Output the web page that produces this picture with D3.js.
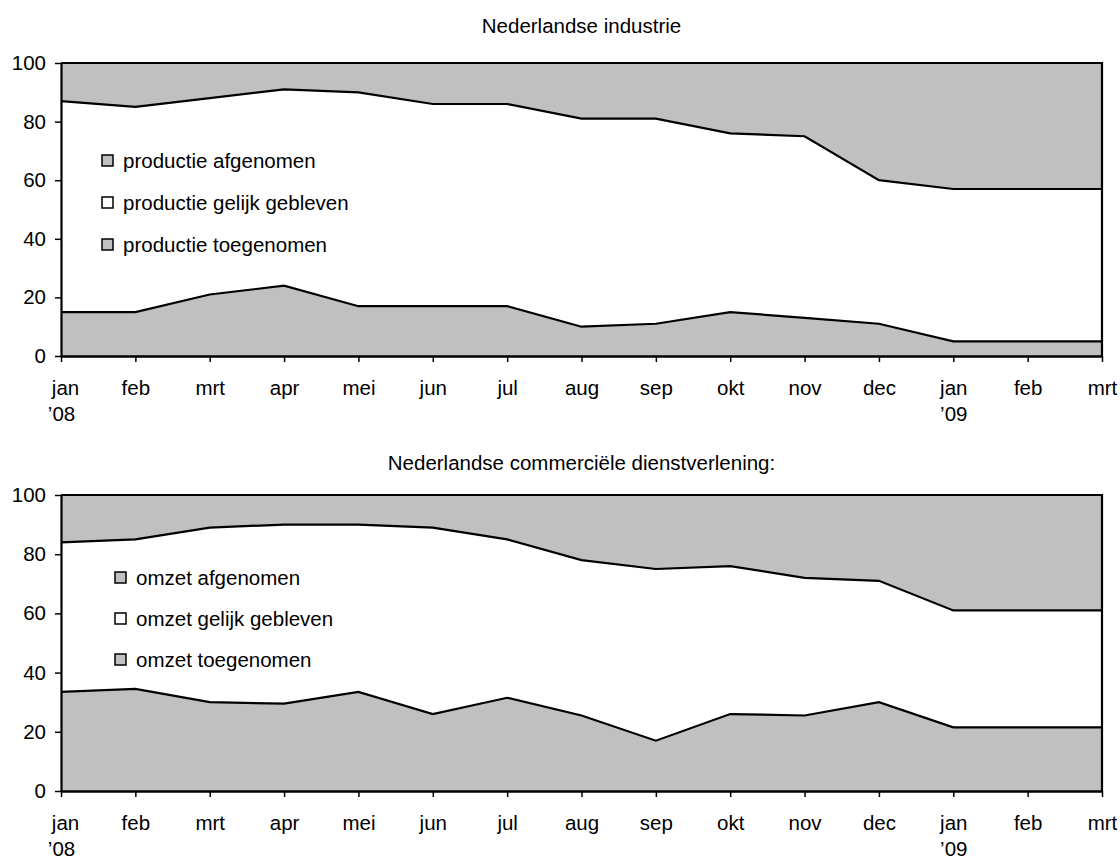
<!DOCTYPE html>
<html>
<head>
<meta charset="utf-8">
<script src="https://cdn.jsdelivr.net/npm/d3@7"></script>
<style>
  html, body { margin: 0; padding: 0; background: #fff; }
  svg text { font-family: "Liberation Sans", Arial, sans-serif; fill: #000; }
</style>
</head>
<body>
<svg id="chart" width="1120" height="859"></svg>
<script>
// ---- data ----
const months = ["jan","feb","mrt","apr","mei","jun","jul","aug","sep","okt","nov","dec","jan","feb","mrt"];
const years  = ["\u201908","","","","","","","","","","","","\u201909","",""];
const yTicks = [0, 20, 40, 60, 80, 100];

// Nederlandse industrie (percentages)
const indToegenomen = [15, 15, 21, 24, 17, 17, 17, 10, 11, 15, 13, 11, 5, 5, 5];
const indGelijk     = [72, 70, 67, 67, 73, 69, 69, 71, 70, 61, 62, 49, 52, 52, 52];
const indAfgenomen  = [13, 15, 12, 9, 10, 14, 14, 19, 19, 24, 25, 40, 43, 43, 43];

// Nederlandse commerciële dienstverlening (percentages)
const dvToegenomen = [33.5, 34.5, 30, 29.5, 33.5, 26, 31.5, 25.5, 17, 26, 25.5, 30, 21.5, 21.5, 21.5];
const dvGelijk     = [50.5, 50.5, 59, 60.5, 56.5, 63, 53.5, 52.5, 58, 50, 46.5, 41, 39.5, 39.5, 39.5];
const dvAfgenomen  = [16, 15, 11, 10, 10, 11, 15, 22, 25, 24, 28, 29, 39, 39, 39];

const indTitle = "Nederlandse industrie";
const dvTitle = "Nederlandse commerciële dienstverlening:";
const indLegend = ["productie afgenomen", "productie gelijk gebleven", "productie toegenomen"];
const dvLegend = ["omzet afgenomen", "omzet gelijk gebleven", "omzet toegenomen"];

// ---- drawing ----
const svg = d3.select("#chart");
const FS = 20.5;
const GRAY = "#c0c0c0";

function drawPanel(cfg) {
  const { top, bottom, left, right, toe, gel, afg, title, legend, legX, legY, legStep } = cfg;
  const g = svg.append("g");
  const idx = d3.range(months.length);
  const x = d3.scalePoint().domain(idx).range([left, right]);
  const y = d3.scaleLinear().domain([0, 100]).range([bottom, top]);

  const rows = idx.map(i => ({ i, toe: toe[i], gel: gel[i], afg: afg[i] }));
  const series = d3.stack().keys(["toe", "gel", "afg"])(rows);
  const fills = { toe: GRAY, gel: "#ffffff", afg: GRAY };

  const area = d3.area()
    .x(d => x(d.data.i))
    .y0(d => y(d[0]))
    .y1(d => y(d[1]));

  g.selectAll("path.layer").data(series).enter().append("path")
    .attr("class", "layer")
    .attr("d", area)
    .attr("fill", s => fills[s.key])
    .attr("stroke", "none");

  // boundary lines
  const line = d3.line().x(d => x(d.data.i)).y(d => y(d[1]));
  g.selectAll("path.bound").data(series.slice(0, 2)).enter().append("path")
    .attr("class", "bound")
    .attr("d", line)
    .attr("fill", "none")
    .attr("stroke", "#000")
    .attr("stroke-width", 2.2);

  // frame: top and right
  g.append("path")
    .attr("d", `M${left},${y(100)}H${right}V${y(0)}`)
    .attr("fill", "none").attr("stroke", "#000").attr("stroke-width", 2.2);

  // y axis
  const ya = g.append("g").attr("transform", `translate(${left},0)`)
    .call(d3.axisLeft(y).tickValues(yTicks).tickSize(6).tickPadding(9).tickSizeOuter(0));
  ya.select(".domain").attr("stroke-width", 2.2);
  ya.selectAll(".tick line").attr("stroke-width", 1.5);
  ya.selectAll("text").attr("font-size", FS).attr("font-family", null);

  // x axis
  const xa = g.append("g").attr("transform", `translate(0,${bottom})`)
    .call(d3.axisBottom(x).tickSize(6).tickSizeOuter(0).tickFormat(() => ""));
  xa.select(".domain").attr("stroke-width", 2.5);
  xa.selectAll(".tick line").attr("stroke-width", 1.5);
  xa.selectAll(".tick text").remove();
  const lab = xa.selectAll(".tick").append("text")
    .attr("font-size", FS)
    .attr("text-anchor", "middle")
    .attr("dx", d => d === 0 ? 4 : 0);
  lab.append("tspan").attr("x", 0).attr("y", 39).text(d => months[d]);
  lab.append("tspan").attr("x", 0).attr("y", 65).text(d => years[d]);

  // title
  g.append("text")
    .attr("x", (left + right) / 2)
    .attr("y", cfg.titleY)
    .attr("text-anchor", "middle")
    .attr("font-size", FS)
    .text(title);

  // legend
  const legFill = [GRAY, "#ffffff", GRAY];
  const lg = g.selectAll("g.leg").data(legend).enter().append("g")
    .attr("class", "leg")
    .attr("transform", (d, i) => `translate(${legX},${legY + i * legStep})`);
  lg.append("rect")
    .attr("x", 0).attr("y", -6).attr("width", 11).attr("height", 11)
    .attr("fill", (d, i) => legFill[i])
    .attr("stroke", "#000").attr("stroke-width", 1.5);
  lg.append("text")
    .attr("x", 21).attr("y", 0).attr("dy", "0.35em")
    .attr("font-size", FS)
    .text(d => d);
}

drawPanel({
  top: 63, bottom: 356, left: 61, right: 1102,
  toe: indToegenomen, gel: indGelijk, afg: indAfgenomen,
  title: indTitle, titleY: 33,
  legend: indLegend, legX: 102, legY: 161, legStep: 42
});

drawPanel({
  top: 495, bottom: 791, left: 61, right: 1102,
  toe: dvToegenomen, gel: dvGelijk, afg: dvAfgenomen,
  title: dvTitle, titleY: 470,
  legend: dvLegend, legX: 115, legY: 578, legStep: 41
});
</script>
</body>
</html>
